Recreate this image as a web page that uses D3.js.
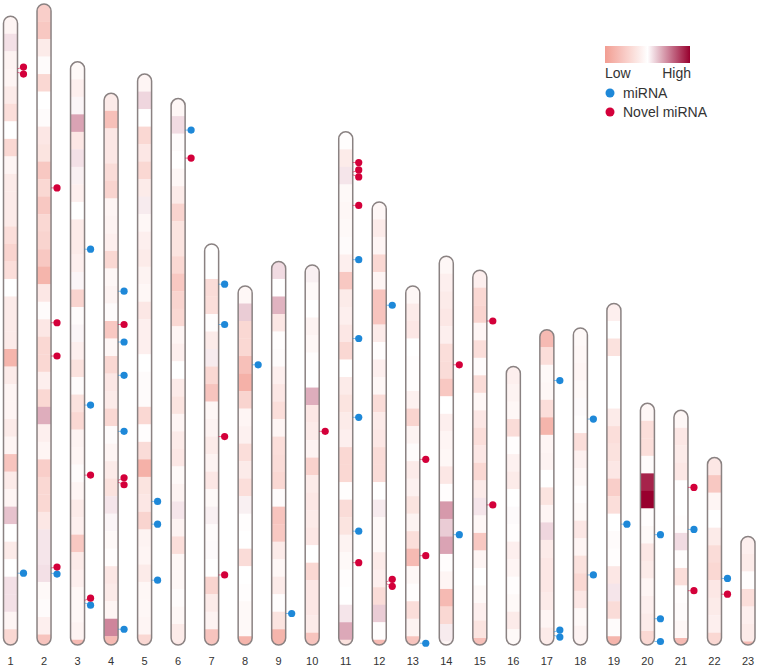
<!DOCTYPE html>
<html>
<head>
<meta charset="utf-8">
<script src="https://cdn.jsdelivr.net/npm/d3@7"></script>
<style>
  body { margin: 0; background: #fff; }
  text { font-family: "Liberation Sans", Arial, sans-serif; fill: #333; }
</style>
</head>
<body>
<svg id="ideogram"></svg>
<script>
// chromosome names and lengths (in bins, one band per bin)
let chromosomes = ["1","2","3","4","5","6","7","8","9","10","11","12","13","14","15","16","17","18","19","20","21","22","23"];
let lengths = [35.9, 36.6, 33.3, 31.5, 32.6, 31.2, 22.9, 20.5, 21.9, 21.7, 29.3, 25.3, 20.5, 22.2, 21.4, 15.9, 18.0, 18.1, 19.5, 13.8, 13.4, 10.7, 6.2];

// band values per chromosome, top to bottom (0 = low, 1 = high)
let bands = [
  [0.45,0.56,0.44,0.45,0.4,0.33,0.5,0.3,0.45,0.4,0.4,0.4,0.33,0.28,0.33,0.5,0.4,0.4,0.4,0.12,0.4,0.45,0.45,0.4,0.45,0.2,0.4,0.45,0.62,0.5,0.4,0.5,0.56,0.56,0.45,0.3],
  [0.25,0.22,0.4,0.48,0.3,0.5,0.48,0.38,0.36,0.22,0.3,0.22,0.3,0.28,0.22,0.12,0.38,0.48,0.38,0.3,0.3,0.42,0.3,0.66,0.42,0.45,0.25,0.3,0.3,0.38,0.55,0.55,0.56,0.47,0.48,0.42,0.2],
  [0.47,0.42,0.52,0.68,0.38,0.56,0.53,0.42,0.5,0.4,0.4,0.42,0.52,0.28,0.48,0.52,0.42,0.35,0.48,0.35,0.3,0.44,0.45,0.48,0.45,0.4,0.42,0.22,0.4,0.42,0.46,0.46,0.44,0.15],
  [0.4,0.18,0.38,0.38,0.32,0.28,0.45,0.44,0.42,0.3,0.46,0.44,0.48,0.22,0.46,0.3,0.38,0.4,0.3,0.48,0.45,0.4,0.35,0.55,0.52,0.47,0.49,0.38,0.4,0.45,0.74,0.15],
  [0.45,0.58,0.5,0.3,0.38,0.3,0.4,0.54,0.46,0.42,0.4,0.44,0.46,0.38,0.42,0.42,0.5,0.48,0.48,0.3,0.49,0.32,0.1,0.36,0.38,0.28,0.44,0.45,0.4,0.46,0.46,0.45,0.3],
  [0.46,0.57,0.48,0.5,0.46,0.4,0.28,0.36,0.36,0.3,0.22,0.28,0.3,0.45,0.42,0.5,0.4,0.36,0.45,0.4,0.38,0.47,0.44,0.55,0.44,0.33,0.46,0.46,0.48,0.46,0.4,0.38],
  [0.5,0.5,0.32,0.33,0.49,0.4,0.54,0.3,0.2,0.46,0.44,0.4,0.44,0.38,0.47,0.53,0.48,0.51,0.5,0.28,0.4,0.44,0.2],
  [0.46,0.6,0.3,0.3,0.18,0.1,0.28,0.45,0.43,0.33,0.4,0.33,0.53,0.49,0.5,0.32,0.5,0.49,0.47,0.47,0.12],
  [0.57,0.5,0.65,0.38,0.49,0.48,0.42,0.38,0.33,0.45,0.33,0.32,0.3,0.48,0.2,0.22,0.4,0.46,0.4,0.49,0.36,0.12],
  [0.53,0.47,0.5,0.44,0.46,0.49,0.5,0.66,0.38,0.4,0.44,0.27,0.4,0.38,0.4,0.38,0.5,0.3,0.38,0.38,0.4,0.2],
  [0.49,0.4,0.55,0.47,0.46,0.47,0.48,0.42,0.22,0.4,0.42,0.38,0.3,0.5,0.4,0.36,0.4,0.42,0.3,0.3,0.49,0.32,0.36,0.44,0.47,0.49,0.5,0.55,0.67,0.35],
  [0.46,0.4,0.45,0.3,0.45,0.2,0.2,0.4,0.49,0.42,0.46,0.32,0.4,0.38,0.32,0.32,0.5,0.54,0.47,0.47,0.4,0.42,0.32,0.6,0.49,0.15],
  [0.46,0.4,0.38,0.5,0.49,0.49,0.43,0.28,0.44,0.48,0.4,0.43,0.36,0.44,0.33,0.15,0.46,0.49,0.33,0.44,0.2],
  [0.46,0.42,0.4,0.38,0.42,0.33,0.32,0.22,0.5,0.42,0.45,0.46,0.38,0.49,0.7,0.6,0.68,0.49,0.45,0.15,0.3,0.54,0.45],
  [0.42,0.3,0.28,0.45,0.33,0.48,0.32,0.46,0.38,0.33,0.38,0.3,0.4,0.55,0.46,0.22,0.45,0.5,0.47,0.42,0.36,0.18],
  [0.42,0.44,0.46,0.32,0.49,0.43,0.4,0.5,0.51,0.49,0.42,0.45,0.49,0.47,0.4,0.47],
  [0.15,0.33,0.47,0.46,0.33,0.12,0.45,0.44,0.5,0.36,0.45,0.58,0.4,0.38,0.38,0.4,0.45,0.4],
  [0.47,0.46,0.45,0.47,0.51,0.49,0.33,0.43,0.46,0.49,0.47,0.38,0.45,0.35,0.3,0.38,0.47,0.44,0.4],
  [0.42,0.5,0.35,0.5,0.5,0.5,0.4,0.33,0.35,0.38,0.25,0.33,0.5,0.48,0.49,0.38,0.55,0.32,0.48,0.12],
  [0.46,0.33,0.33,0.48,0.93,1.0,0.49,0.47,0.38,0.4,0.45,0.42,0.4,0.3],
  [0.46,0.38,0.4,0.38,0.5,0.5,0.49,0.57,0.49,0.33,0.49,0.48,0.46,0.15],
  [0.38,0.22,0.45,0.5,0.4,0.32,0.3,0.38,0.4,0.42,0.3],
  [0.42,0.4,0.49,0.33,0.42,0.4,0.15]
];

// miRNA loci: chromosome and position (bins from top)
let mirnaChrom = ["1","2","3","3","3","4","4","4","4","4","5","5","5","6","7","7","8","9","11","11","11","11","12","13","14","17","17","17","18","18","19","20","20","20","21","22"];
let mirnaPos   = [31.8,32.5,10.7,19.6,30.9,11.3,14.2,16.1,19.3,30.6,24.4,25.7,28.9,1.8,2.3,4.6,4.5,20.1,7.3,11.8,16.3,22.8,5.9,20.4,15.9,2.9,17.25,17.45,5.2,14.1,12.6,7.5,12.3,13.6,6.8,6.9];

// novel miRNA loci
let novelChrom = ["1","1","2","2","2","2","3","3","4","4","4","6","7","7","10","11","11","11","11","11","12","12","13","13","14","15","15","21","21","22"];
let novelPos   = [3.0,3.2,10.5,18.2,20.1,32.2,23.6,30.75,13.2,22.1,22.2,3.4,11.0,18.9,9.5,1.75,2.3,2.45,4.2,24.6,21.7,21.8,9.9,15.4,6.2,2.9,13.4,4.4,10.3,7.8];

let config = {
  svg: { width: 760, height: 669 },
  bottom: 645,
  chromWidth: 14,
  dotOffset: 13,
  dotRadius: 3.6,
  minGap: 7,
  legend: { x: 605, y: 46, width: 85, height: 17 }
};

let colors = {
  mirna: "#1e88d8",
  novel: "#d3003a",
  outline: "#8a8282"
};

let svg = d3.select("svg#ideogram")
  .attr("width", config.svg.width)
  .attr("height", config.svg.height);

let scale = {};
scale.x = d3.scalePoint().domain(chromosomes).range([10.5, 748]);
scale.len = d3.scaleLinear().domain([0, 36.6]).range([0, 641]);
scale.color = d3.scaleLinear()
  .domain([0, 0.5, 1])
  .range(["#f29d92", "#ffffff", "#98002e"]);

let defs = svg.append("defs");

let chromData = chromosomes.map((c, i) => ({
  name: c,
  len: lengths[i],
  bands: bands[i],
  top: config.bottom - scale.len(lengths[i])
}));

let chroms = svg.append("g").attr("id", "chromosomes")
  .selectAll("g")
  .data(chromData)
  .enter()
  .append("g")
  .attr("transform", d => translate(scale.x(d.name) - config.chromWidth / 2, 0));

chroms.each(function(d, i) {
  let h = config.bottom - d.top;
  defs.append("clipPath")
    .attr("id", "clip" + i)
    .append("rect")
    .attr("x", 0).attr("y", d.top)
    .attr("width", config.chromWidth).attr("height", h)
    .attr("rx", config.chromWidth / 2);

  let g = d3.select(this);
  g.append("g")
    .attr("clip-path", "url(#clip" + i + ")")
    .selectAll("rect")
    .data(d.bands)
    .enter()
    .append("rect")
    .attr("x", 0)
    .attr("y", (v, j) => d.top + scale.len(j))
    .attr("width", config.chromWidth)
    .attr("height", (v, j) => Math.min(scale.len(1), h - scale.len(j)) + 0.3)
    .attr("fill", v => scale.color(v));

  g.append("rect")
    .attr("x", 0).attr("y", d.top)
    .attr("width", config.chromWidth).attr("height", h)
    .attr("rx", config.chromWidth / 2)
    .attr("fill", "none")
    .attr("stroke", colors.outline)
    .attr("stroke-width", 1.5);
});

// chromosome labels
svg.append("g")
  .selectAll("text")
  .data(chromosomes)
  .enter()
  .append("text")
  .attr("x", d => scale.x(d))
  .attr("y", 665)
  .attr("text-anchor", "middle")
  .attr("font-size", "11px")
  .text(d => d);

// collect loci
let loci = [];
mirnaChrom.forEach((c, i) => loci.push({ chrom: c, pos: mirnaPos[i], type: "mirna" }));
novelChrom.forEach((c, i) => loci.push({ chrom: c, pos: novelPos[i], type: "novel" }));

let byChrom = d3.group(loci, d => d.chrom);
byChrom.forEach((list, c) => {
  let ch = chromData[chromosomes.indexOf(c)];
  list.forEach(d => { d.y0 = ch.top + scale.len(d.pos); });
  list.sort((a, b) => a.y0 - b.y0);
  dodge(list);
});

let lociG = svg.append("g").attr("id", "loci");

lociG.selectAll("line")
  .data(loci)
  .enter()
  .append("line")
  .attr("x1", d => scale.x(d.chrom) + config.chromWidth / 2)
  .attr("y1", d => d.y0)
  .attr("x2", d => scale.x(d.chrom) + config.dotOffset)
  .attr("y2", d => d.y)
  .attr("stroke", d => colors[d.type])
  .attr("stroke-opacity", 0.55)
  .attr("stroke-width", 1);

lociG.selectAll("circle")
  .data(loci)
  .enter()
  .append("circle")
  .attr("cx", d => scale.x(d.chrom) + config.dotOffset)
  .attr("cy", d => d.y)
  .attr("r", config.dotRadius)
  .attr("fill", d => colors[d.type]);

drawLegend();

// spread out dots that would overlap, keeping each group centred
function dodge(list) {
  let groups = list.map(d => ({ items: [d], center: d.y0 }));
  let merged = true;
  while (merged) {
    merged = false;
    for (let i = 0; i < groups.length - 1; i++) {
      let a = groups[i], b = groups[i + 1];
      let aEnd = a.center + (a.items.length - 1) * config.minGap / 2;
      let bStart = b.center - (b.items.length - 1) * config.minGap / 2;
      if (bStart - aEnd < config.minGap) {
        let items = a.items.concat(b.items);
        groups.splice(i, 2, { items: items, center: d3.mean(items, d => d.y0) });
        merged = true;
        break;
      }
    }
  }
  groups.forEach(g => {
    let start = g.center - (g.items.length - 1) * config.minGap / 2;
    g.items.forEach((d, k) => { d.y = start + k * config.minGap; });
  });
}

function drawLegend() {
  let lg = config.legend;
  let gradient = defs.append("linearGradient").attr("id", "gradient");
  gradient.selectAll("stop")
    .data(d3.ticks(0, 1, 20))
    .enter()
    .append("stop")
    .attr("offset", d => (d * 100) + "%")
    .attr("stop-color", d => scale.color(d));

  let legend = svg.append("g").attr("id", "legend");
  legend.append("rect")
    .attr("x", lg.x).attr("y", lg.y)
    .attr("width", lg.width).attr("height", lg.height)
    .attr("fill", "url(#gradient)");

  legend.append("text")
    .attr("x", lg.x).attr("y", 77.5)
    .attr("font-size", "14px")
    .text("Low");
  legend.append("text")
    .attr("x", lg.x + lg.width + 1).attr("y", 77.5)
    .attr("text-anchor", "end")
    .attr("font-size", "14px")
    .text("High");

  let items = [["miRNA", colors.mirna], ["Novel miRNA", colors.novel]];
  items.forEach((it, i) => {
    legend.append("circle")
      .attr("cx", 610).attr("cy", 93 + i * 19)
      .attr("r", 4.5)
      .attr("fill", it[1]);
    legend.append("text")
      .attr("x", 623).attr("y", 98 + i * 19)
      .attr("font-size", "14px")
      .text(it[0]);
  });
}

function translate(x, y) {
  return 'translate(' + x + ',' + y + ')';
}
</script>
</body>
</html>
